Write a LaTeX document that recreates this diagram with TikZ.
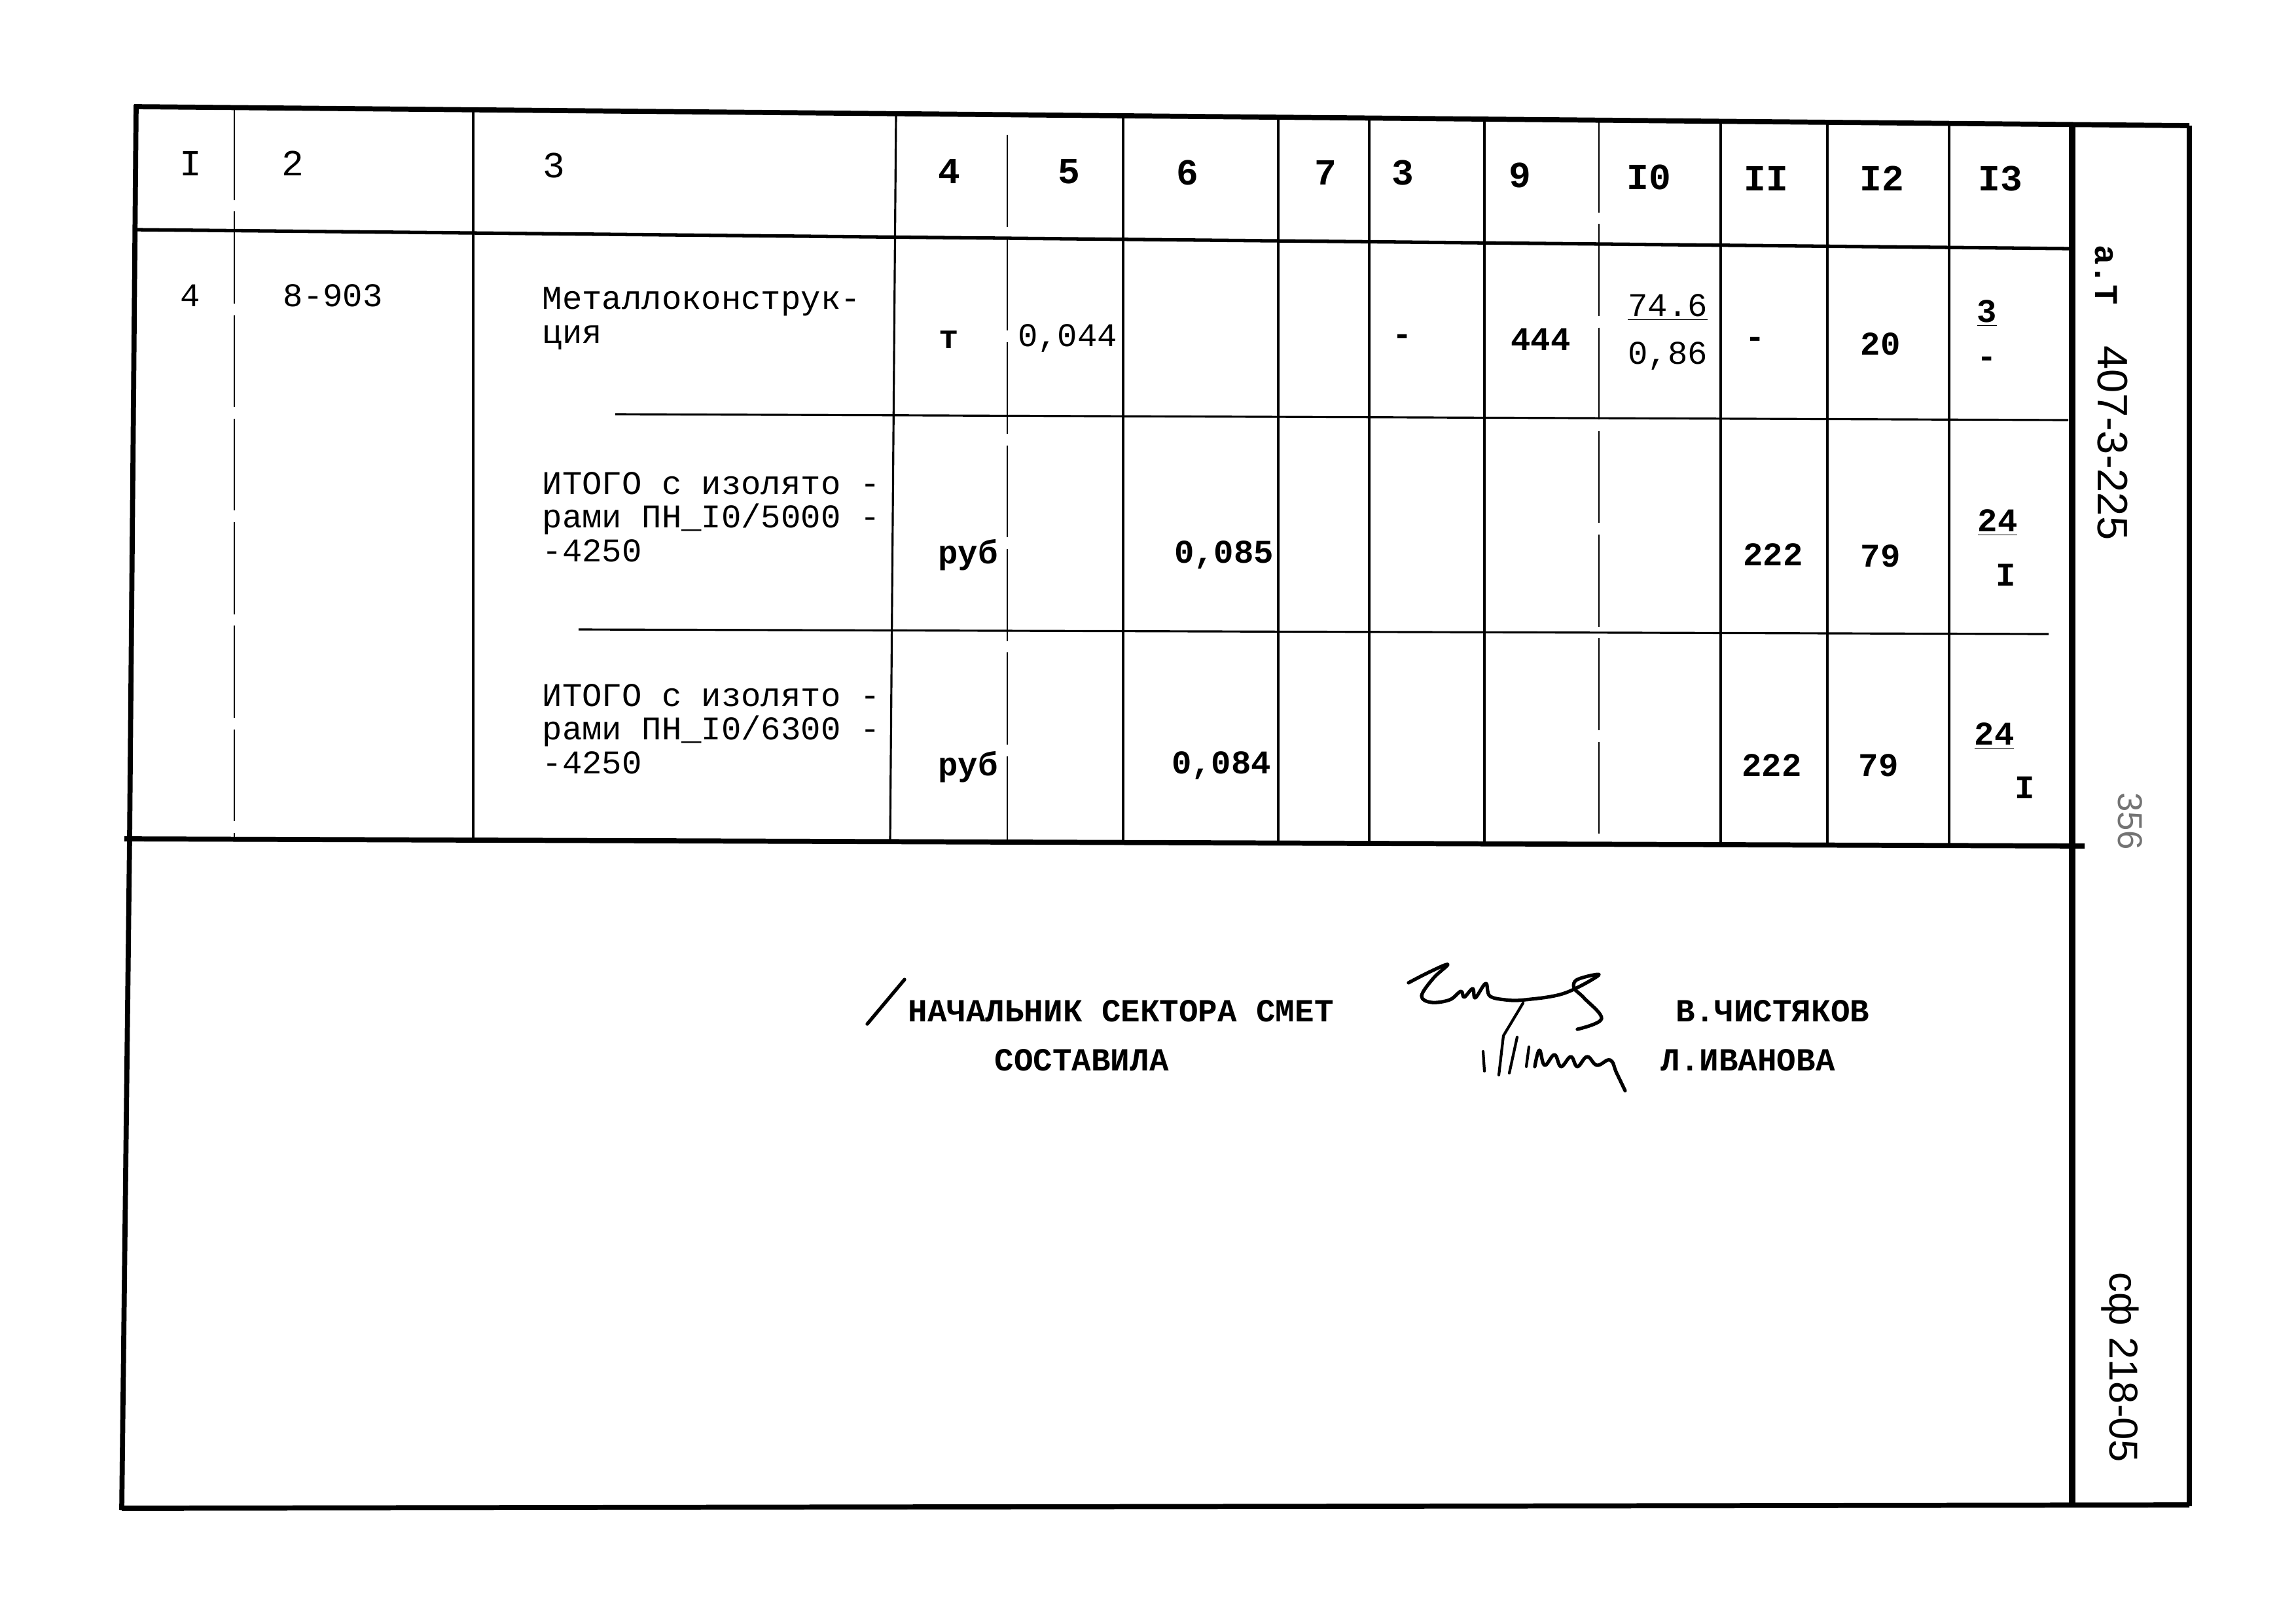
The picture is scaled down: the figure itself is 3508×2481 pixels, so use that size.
\documentclass[tikz,border=0pt]{standalone}
\usepackage{fontspec}
\setmainfont{Liberation Serif}
\newfontfamily\typed{Liberation Mono}
\newfontfamily\hand{Liberation Sans}
\tikzset{
    frameline/.style={line width=2.2pt},
    ruling/.style={line width=0.9pt},
    brokenline/.style={line width=0.8pt, dash pattern=on 40pt off 5pt},
    typedtxt/.style={inner sep=0pt, font=\typed\fontsize{14.4}{14.7}\selectfont},
    headtxt/.style={inner sep=0pt, font=\typed\fontsize{16}{16}\selectfont},
    signtxt/.style={inner sep=0pt, font=\typed\bfseries\fontsize{14}{14}\selectfont},
    handtxt/.style={inner sep=0pt, rotate=-90, font=\hand\fontsize{18.5}{18.5}\selectfont},
    signline/.style={line width=1.5pt, line cap=round, line join=round}}

\begin{document}
\begin{tikzpicture}[x=0.01cm, y=-0.01cm]
\useasboundingbox (0,0) rectangle (3508,2481);

    % outer frame
    \draw[frameline] (208,160) -- (198,1282) -- (186,2308);
    \draw[frameline] (205,163) -- (3345,192);
    \draw[frameline] (186,2305) -- (3345,2300);
    \draw[line width=2.8pt] (3166,190) -- (3166,2302);
    \draw[frameline] (3345,192) -- (3345,2302);

    % table rulings
    \draw[line width=1.5pt] (205,351) -- (3166,380);
    \draw[ruling] (940,633) -- (3160,642);
    \draw[ruling] (884,962) -- (3130,969);
    \draw[line width=2.2pt] (190,1282) -- (3185,1293);

    \draw[brokenline] (358,165) -- (358,1283);
    \draw[ruling] (723,168) -- (723,1284);
    \draw[ruling] (1369,174) -- (1360,1286);
    \draw[brokenline] (1539,206) -- (1539,1287);
    \draw[ruling] (1716,177) -- (1716,1288);
    \draw[ruling] (1953,179) -- (1953,1288);
    \draw[line width=1.4pt] (2092,180) -- (2092,1289);
    \draw[ruling] (2268,182) -- (2268,1290);
    \draw[brokenline] (2443,184) -- (2443,1291);
    \draw[ruling] (2629,185) -- (2629,1291);
    \draw[ruling] (2792,187) -- (2792,1292);
    \draw[line width=1.2pt] (2978,188) -- (2978,1293);

    % column numbers
    \node[headtxt] (h1) at (291,250) {I};
    \node[headtxt] (h2) at (447,250) {2};
    \node[headtxt] (h3) at (846,253) {3};
    \node[headtxt] (h4) at (1450,262) {\bfseries 4};
    \node[headtxt] (h5) at (1633,262) {\bfseries 5};
    \node[headtxt] (h6) at (1814,264) {\bfseries 6};
    \node[headtxt] (h7) at (2025,264) {\bfseries 7};
    \node[headtxt] (h8) at (2143,264) {\bfseries 3};
    \node[headtxt] (h9) at (2322,268) {\bfseries 9};
    \node[headtxt] (h10) at (2519,271) {\bfseries I0};
    \node[headtxt] (h11) at (2698,273) {\bfseries II};
    \node[headtxt] (h12) at (2875,273) {\bfseries I2};
    \node[headtxt] (h13) at (3056,273) {\bfseries I3};

    % row 4
    \node[typedtxt] (num) at (291,452) {4};
    \node[typedtxt, anchor=west] (code) at (432,452) {8-903};
    \node[typedtxt, anchor=west, align=left] (metal) at (828,487) {Металлоконструк-\\ция};
    \node[typedtxt] (unit) at (1450,519) {\bfseries т};
    \node[typedtxt] (qty) at (1631,517) {0,044};
    \node[typedtxt] (dash8) at (2143,519) {\bfseries -};
    \node[typedtxt] (val9) at (2354,519) {\bfseries 444};
    \node[typedtxt] (val10a) at (2548,470) {\underline{74.6}};
    \node[typedtxt] (val10b) at (2548,544) {0,86};
    \node[typedtxt] (dash11) at (2682,523) {\bfseries -};
    \node[typedtxt] (val12) at (2873,526) {\bfseries 20};
    \node[typedtxt] (val13a) at (3036,479) {\bfseries\underline{3}};
    \node[typedtxt] (val13b) at (3036,553) {\bfseries -};

    % total with PN-10/5000
    \node[typedtxt, anchor=west, align=left] (sumA) at (828,790) {ИТОГО с изолято -\\рами ПН\_I0/5000 -\\-4250};
    \node[typedtxt] (unitA) at (1479,848) {\bfseries руб};
    \node[typedtxt] (qtyA) at (1870,848) {\bfseries 0,085};
    \node[typedtxt] (costA) at (2709,848) {\bfseries 222};
    \node[typedtxt] (workA) at (2873,850) {\bfseries 79};
    \node[typedtxt] (topA) at (3052,799) {\bfseries\underline{24}};
    \node[typedtxt] (botA) at (3065,879) {\bfseries I};

    % total with PN-10/6300
    \node[typedtxt, anchor=west, align=left] (sumB) at (828,1114) {ИТОГО с изолято -\\рами ПН\_I0/6300 -\\-4250};
    \node[typedtxt] (unitB) at (1479,1172) {\bfseries руб};
    \node[typedtxt] (qtyB) at (1866,1170) {\bfseries 0,084};
    \node[typedtxt] (costB) at (2707,1170) {\bfseries 222};
    \node[typedtxt] (workB) at (2870,1170) {\bfseries 79};
    \node[typedtxt] (topB) at (3047,1125) {\bfseries\underline{24}};
    \node[typedtxt] (botB) at (3094,1204) {\bfseries I};

    % signatures
    \draw[signline] (1325,1565) -- (1382,1497);
    \node[signtxt, anchor=west] (chief) at (1387,1545) {НАЧАЛЬНИК СЕКТОРА СМЕТ};
    \node[signtxt, anchor=west] (made) at (1519,1620) {СОСТАВИЛА};
    \node[signtxt, anchor=west] (chist) at (2560,1545) {В.ЧИСТЯКОВ};
    \node[signtxt, anchor=west] (ivan) at (2537,1620) {Л.ИВАНОВА};
    \draw[signline] plot[smooth, tension=0.6] coordinates {(2152,1502) (2185,1485) (2212,1474) (2190,1495) (2172,1522) (2187,1532) (2215,1528) (2232,1515) (2237,1524) (2250,1511) (2254,1525) (2270,1503) (2276,1522) (2300,1528) (2330,1528) (2390,1518) (2443,1490) (2410,1497) (2405,1510) (2420,1525) (2447,1557) (2410,1573)};
    \draw[signline, line width=1.2pt] (2327,1533) -- (2297,1583) -- (2290,1643);
    \draw[signline, line width=1.2pt] (2266,1607) -- (2268,1637);
    \draw[signline, line width=1.2pt] (2306,1640) -- (2318,1585);
    \draw[signline, line width=1.2pt] (2332,1630) -- (2336,1600);
    \draw[signline] plot[smooth, tension=0.7] coordinates {(2345,1630) (2352,1605) (2360,1628) (2375,1612) (2385,1630) (2400,1615) (2410,1630) (2425,1615) (2440,1628) (2460,1620) (2470,1640) (2483,1667)};

    % side strip
    \node[typedtxt, rotate=-90] (sheet) at (3218,420) {\bfseries а.Т};
    \node[handtxt] (proj) at (3228,677) {407-3-225};
    \node[handtxt, font=\hand\fontsize{15}{15}\selectfont, text=black!55] (page) at (3255,1255) {356};
    \node[handtxt, font=\hand\fontsize{17.5}{17.5}\selectfont] (sf) at (3239,2090) {сф 218-05};

\end{tikzpicture}
\end{document}
